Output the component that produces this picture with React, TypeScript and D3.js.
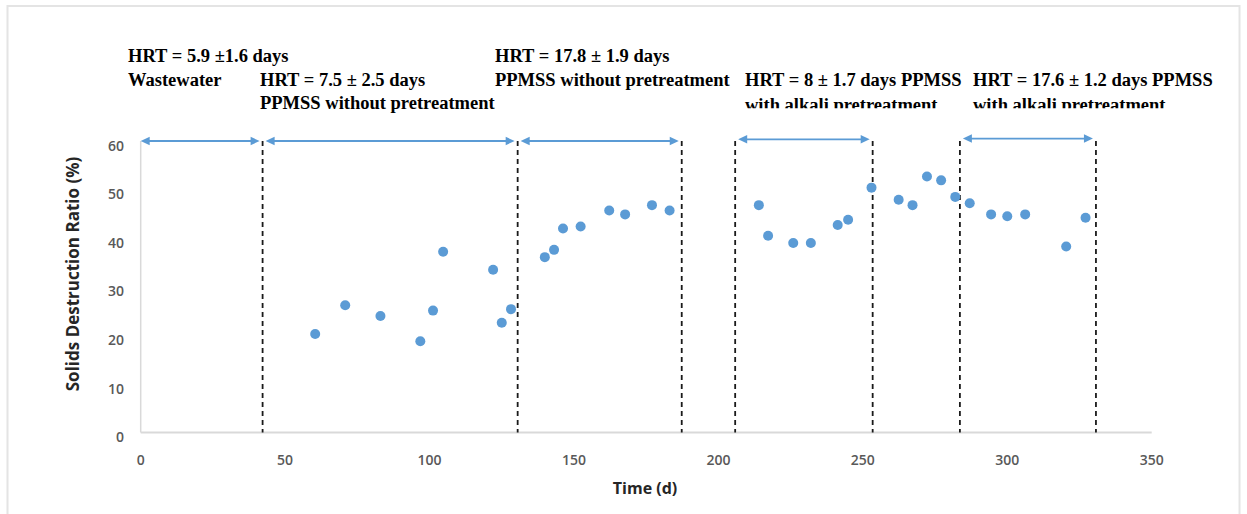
import React from 'react';
import * as d3 from 'd3';

// ---- data ----
const timeDays = [
  60.4, 70.8, 83.0, 96.8, 101.2, 104.7, 122.0, 125.0, 128.2,
  139.9, 143.1, 146.2, 152.3, 162.2, 167.7, 177.0, 183.1,
  214.0, 217.2, 225.9, 232.0, 241.3, 244.9, 253.0,
  262.4, 267.2, 272.2, 277.1, 282.0, 287.0, 294.4, 300.0, 306.2, 320.4, 327.1,
];
const destructionPct = [
  20.3, 26.2, 24.0, 18.8, 25.1, 37.2, 33.5, 22.6, 25.4,
  36.1, 37.6, 42.0, 42.4, 45.7, 44.9, 46.8, 45.7,
  46.8, 40.5, 39.0, 39.0, 42.7, 43.8, 50.4,
  47.9, 46.8, 52.7, 51.9, 48.5, 47.2, 44.9, 44.5, 44.9, 38.3, 44.2,
];
const phaseBoundaries = [42.2, 130.5, 187.3, 205.8, 253.4, 283.6, 330.7];
const arrowStart = [0, 42.2, 130.5, 205.8, 283.6];
const arrowEnd = [42.2, 130.5, 187.3, 253.4, 330.7];
const arrowLevel = [60, 60, 60, 60.35, 60.5];
const xTicks = [0, 50, 100, 150, 200, 250, 300, 350];
const yTicks = [0, 10, 20, 30, 40, 50, 60];
const headerTexts = [
  'HRT = 5.9 \u00b11.6 days',
  'Wastewater',
  'HRT = 7.5 \u00b1 2.5 days',
  'PPMSS without pretreatment',
  'HRT = 17.8 \u00b1 1.9 days',
  'PPMSS without pretreatment',
  'HRT = 8 \u00b1 1.7 days PPMSS',
  'with alkali pretreatment',
  'HRT = 17.6 \u00b1 1.2 days PPMSS',
  'with alkali pretreatment',
];
const xTitle = 'Time (d)';
const yTitle = 'Solids Destruction Ratio (%)';

// ---- layout ----
const W = 1247;
const H = 514;
const headerLayout: [number, number, boolean][] = [
  [128, 62, false],
  [128, 85.5, false],
  [260, 85.5, false],
  [260, 109, false],
  [495, 62, false],
  [495, 85.5, false],
  [745, 86, false],
  [745, 110.5, true],
  [973, 86, false],
  [973, 110.5, true],
];

export default function App() {
  const x = d3.scaleLinear().domain([0, 350]).range([140.7, 1151.7]);
  const y = d3.scaleLinear().domain([0, 60]).range([432.6, 141]);
  const blue = '#5B9BD5';
  const tickFont = '"Open Sans", "DejaVu Sans", sans-serif';

  const arrowHead = (tipX: number, tipY: number, dir: number) => {
    const len = 9;
    const half = 4.2;
    return `M${tipX},${tipY} L${tipX - dir * len},${tipY - half} L${tipX - dir * len},${tipY + half} Z`;
  };

  return (
    <svg
      width={W}
      height={H}
      viewBox={`0 0 ${W} ${H}`}
      style={{ position: 'absolute', left: 0, top: 0, background: '#fff' }}
    >
      <defs>
        <clipPath id="hdrClip">
          <rect x={0} y={0} width={W} height={108.3} />
        </clipPath>
      </defs>
      {/* frame */}
      <rect x={7.5} y={6} width={1232} height={530} fill="none" stroke="#e4e4e4" strokeWidth={2} />

      {/* axes lines */}
      <line x1={x(0)} x2={x(0)} y1={y(60)} y2={y(0)} stroke="#d9d9d9" strokeWidth={1.5} />
      <line x1={x(0)} x2={x(350)} y1={y(0)} y2={y(0)} stroke="#d9d9d9" strokeWidth={2} />

      {/* y ticks */}
      {yTicks.map((t) => (
        <text
          key={'y' + t}
          x={124}
          y={y(t) + 4}
          textAnchor="end"
          dominantBaseline="central"
          fontFamily={tickFont}
          fontSize={14}
          fontWeight={600}
          fill="#595959"
        >
          {t}
        </text>
      ))}
      {/* x ticks */}
      {xTicks.map((t) => (
        <text
          key={'x' + t}
          x={x(t)}
          y={459}
          textAnchor="middle"
          dominantBaseline="central"
          fontFamily={tickFont}
          fontSize={14}
          fontWeight={600}
          fill="#595959"
        >
          {t}
        </text>
      ))}

      {/* axis titles */}
      <text
        x={645}
        y={488}
        textAnchor="middle"
        dominantBaseline="central"
        fontFamily={tickFont}
        fontSize={16}
        fontWeight={700}
        fill="#262626"
      >
        {xTitle}
      </text>
      <text
        transform={`translate(72,274) rotate(-90)`}
        textAnchor="middle"
        dominantBaseline="central"
        fontFamily={tickFont}
        fontSize={17}
        fontWeight={700}
        fill="#262626"
      >
        {yTitle}
      </text>

      {/* phase boundaries */}
      {phaseBoundaries.map((b, i) => (
        <line
          key={'b' + i}
          x1={x(b)}
          x2={x(b)}
          y1={y(60)}
          y2={y(0)}
          stroke="#1a1a1a"
          strokeWidth={1.8}
          strokeDasharray="5,4"
        />
      ))}

      {/* phase arrows */}
      {arrowStart.map((s, i) => {
        const x1 = x(s) + (i === 0 ? 0 : 3);
        const x2 = x(arrowEnd[i]) - 3;
        const yy = y(arrowLevel[i]);
        return (
          <g key={'a' + i}>
            <line x1={x1 + 6} x2={x2 - 6} y1={yy} y2={yy} stroke={blue} strokeWidth={1.8} />
            <path d={arrowHead(x1, yy, -1)} fill={blue} />
            <path d={arrowHead(x2, yy, 1)} fill={blue} />
          </g>
        );
      })}

      {/* points */}
      {timeDays.map((t, i) => (
        <circle key={'p' + i} cx={x(t)} cy={y(destructionPct[i])} r={5} fill={blue} />
      ))}

      {/* header annotations */}
      {headerTexts.map((txt, i) => {
        const [hx, hy, clip] = headerLayout[i];
        return (
          <text
            key={'h' + i}
            x={hx}
            y={hy}
            clipPath={clip ? 'url(#hdrClip)' : undefined}
            fontFamily='"Liberation Serif", "Times New Roman", serif'
            fontSize={18.5}
            fontWeight={700}
            fill="#000"
          >
            {txt}
          </text>
        );
      })}
    </svg>
  );
}
